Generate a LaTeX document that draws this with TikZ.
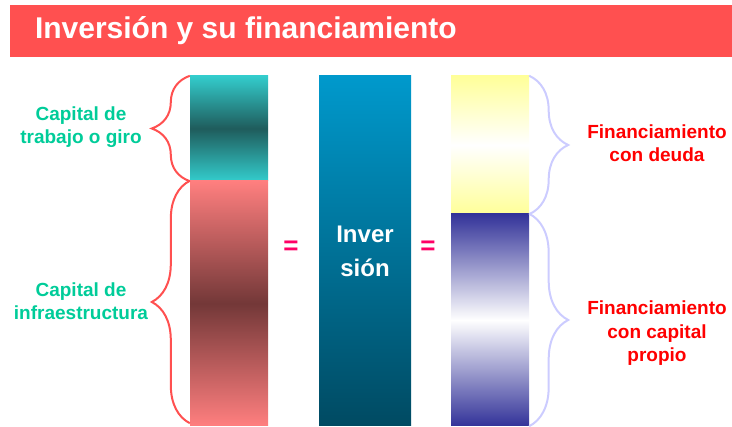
\documentclass[tikz,border=0pt]{standalone}
\usepackage{fontspec}
\setmainfont{Liberation Sans}
\usetikzlibrary{decorations.pathreplacing,positioning}

\definecolor{titlered}{HTML}{FF5050}
\definecolor{giroteal}{HTML}{33CCCC}
\definecolor{girodark}{HTML}{1F5C5C}
\definecolor{infralight}{HTML}{FF7F7F}
\definecolor{infradark}{HTML}{733838}
\definecolor{invtop}{HTML}{0099CC}
\definecolor{invbottom}{HTML}{004A62}
\definecolor{deudayellow}{HTML}{FFFF99}
\definecolor{propioblue}{HTML}{333399}
\definecolor{labelgreen}{HTML}{00CC99}
\definecolor{labelred}{HTML}{FF0000}
\definecolor{eqpink}{HTML}{FF0066}
\definecolor{bracelilac}{HTML}{CCCCFF}

\begin{document}
\begin{tikzpicture}[x=1pt,y=-1pt]
\tikzset{
bar/.style={rectangle, inner sep=0pt, minimum width=78pt},
mylabel/.style={align=center, inner sep=0pt, font=\bfseries\fontsize{19}{23.5}\selectfont},
leftbrace/.style={decorate, decoration={brace,amplitude=38pt}, draw=titlered, line width=2pt},
rightbrace/.style={decorate, decoration={brace,amplitude=39pt}, draw=bracelilac, line width=2pt},
eqsign/.style={text=eqpink, inner sep=0pt, font=\bfseries\fontsize{26}{26}\selectfont},
}
\useasboundingbox (0,0) rectangle (732,427);

% title
\node [rectangle, fill=titlered, inner sep=0pt, minimum width=722pt, minimum height=52pt] (titlebar) at (371,31) {};
\node [right=25pt of titlebar.west, inner sep=0pt, text=white, font=\bfseries\fontsize{30}{36}\selectfont] (title) {Inversión y su financiamiento};

% columns
\node [bar, minimum height=105pt, top color=giroteal, bottom color=giroteal, middle color=girodark] (giro) at (229,128.5) {};
\node [bar, minimum height=245pt, top color=infralight, bottom color=infralight, middle color=infradark] (infra) at (229,303.5) {};
\node [bar, minimum width=92pt, minimum height=350pt, top color=invtop, bottom color=invbottom,
       align=center, text=white, font=\bfseries\fontsize{24}{34}\selectfont] (inversion) at (365,251) {Inver\\sión};
\node [bar, minimum height=138pt, top color=deudayellow, bottom color=deudayellow, middle color=white] (deuda) at (490,145) {};
\node [bar, minimum height=212pt, top color=propioblue, bottom color=propioblue, middle color=white] (propio) at (490,320) {};

\node [eqsign] (eq1) at (291,248) {=};
\node [eqsign] (eq2) at (428,248) {=};

% braces
\draw[leftbrace] (giro.south west) -- (giro.north west);
\draw[leftbrace] ([yshift=3pt]infra.south west) -- (infra.north west);
\draw[rightbrace] (deuda.north east) -- (deuda.south east);
\draw[rightbrace] (propio.north east) -- (propio.south east);

% labels
\node [mylabel, text=labelgreen] (lbgiro) at (81,127) {Capital de\\trabajo o giro};
\node [mylabel, text=labelgreen] (lbinfra) at (81,301) {Capital de\\infraestructura};
\node [mylabel, text=labelred] (lbdeuda) at (657,143) {Financiamiento\\con deuda};
\node [mylabel, text=labelred] (lbpropio) at (657,333.5) {Financiamiento\\con capital\\propio};
\end{tikzpicture}
\end{document}
